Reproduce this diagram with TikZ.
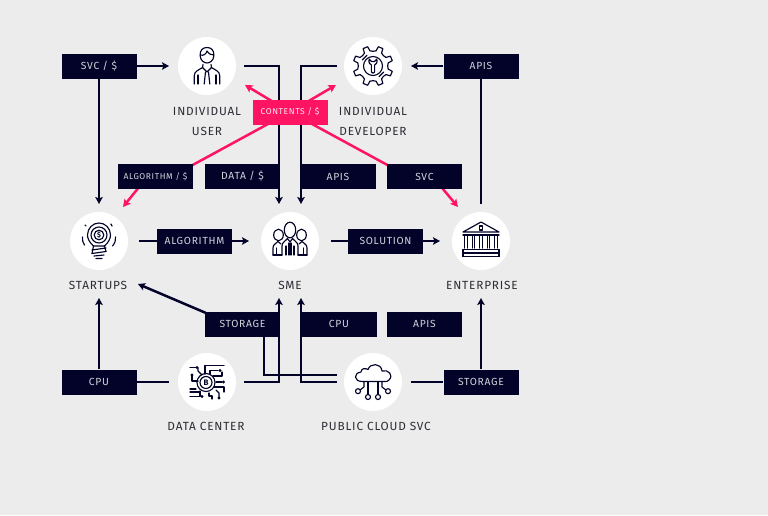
\documentclass[tikz,border=0pt]{standalone}
\usepackage{fontspec}
\setmainfont{Fira Sans}[Scale=1]
\newfontfamily\dinA{Fira Sans}[LetterSpace=7]
\usetikzlibrary{arrows.meta,backgrounds}
\definecolor{bgc}{HTML}{ECECEC}
\definecolor{navy}{HTML}{03032A}
\definecolor{pinkc}{HTML}{FF1464}
\definecolor{lblc}{HTML}{2C2C34}
\definecolor{boxt}{HTML}{D2D2DA}
\tikzset{
  x=1pt,y=-1pt,
  boxn/.style={fill=navy,text=boxt,minimum width=75pt,minimum height=25pt,inner sep=0pt,font=\dinA\fontsize{10.3}{12}\selectfont},
  boxsmall/.style={boxn,font=\dinA\fontsize{8.5}{10}\selectfont},
  boxpink/.style={boxsmall,fill=pinkc,text=white!90!pinkc},
  disc/.style={circle,fill=white,minimum size=58pt,inner sep=0pt},
  lbl/.style={text=lblc,align=center,inner sep=0pt,font=\dinA\fontsize{11.8}{20}\selectfont},
  conn/.style={draw=navy,line width=2.5pt},
  connarrow/.style={conn,-{Stealth[length=7pt,width=7.5pt,inset=1.5pt]}},
  pinkline/.style={draw=pinkc,line width=2.5pt},
  pinkarrow/.style={pinkline,-{Stealth[length=7.5pt,width=8pt,inset=1.5pt]}},
  ico/.style={draw=navy,line width=1.15pt,line cap=round,line join=round,fill=none},
  icot/.style={text=navy,inner sep=0pt,font=\fontsize{8}{8}\selectfont\bfseries},
}
\begin{document}
\begin{tikzpicture}
\useasboundingbox (0,0) rectangle (768,515);
% discs
\node[disc] (user) at (207,66) {};
\node[disc] (dev) at (373,66) {};
\node[disc] (start) at (99,241) {};
\node[disc] (sme) at (290,241) {};
\node[disc] (ent) at (481,241) {};
\node[disc] (dc) at (207,382) {};
\node[disc] (cloud) at (373,382) {};
% boxes
\node[boxn] (bsvcd) at (99,66) {SVC / \$};
\node[boxn] (bapit) at (481,66) {APIS};
\node[boxpink] (bcont) at (290,112) {CONTENTS / \$};
\node[boxsmall] (balgod) at (155.5,176.5) {ALGORITHM / \$};
\node[boxn] (bdata) at (242.5,176.5) {DATA / \$};
\node[boxn] (bapim) at (338,176.5) {APIS};
\node[boxn] (bsvc) at (424.5,176.5) {SVC};
\node[boxn] (balgo) at (194.5,241) {ALGORITHM};
\node[boxn] (bsol) at (385.5,241) {SOLUTION};
\node[boxn] (bstm) at (242.5,324) {STORAGE};
\node[boxn] (bcpum) at (339,324) {CPU};
\node[boxn] (bapil) at (424.5,324) {APIS};
\node[boxn] (bcpul) at (99,382) {CPU};
\node[boxn] (bstl) at (481,382) {STORAGE};
% labels
\node[lbl] (luser) at (207,121) {INDIVIDUAL\\USER};
\node[lbl] (ldev) at (373,121) {INDIVIDUAL\\DEVELOPER};
\node[lbl] (lstart) at (98,285.5) {STARTUPS};
\node[lbl] (lsme) at (290,285.5) {SME};
\node[lbl] (lent) at (482,285.5) {ENTERPRISE};
\node[lbl] (ldc) at (206,426.5) {DATA CENTER};
\node[lbl] (lcloud) at (376,426.5) {PUBLIC CLOUD SVC};
% free ends
\coordinate (userIn) at (169,66);
\coordinate (userOut) at (244,66);
\coordinate (devOut) at (337,66);
\coordinate (devIn) at (411,66);
\coordinate (startTop) at (99,204);
\coordinate (smeTopL) at (279,204);
\coordinate (smeTopR) at (301,204);
\coordinate (entTop) at (481,204);
\coordinate (startBot) at (99,298);
\coordinate (smeBotL) at (279,298);
\coordinate (smeBotR) at (301,298);
\coordinate (entBot) at (481,298);
\coordinate (startOut) at (139,241);
\coordinate (smeIn) at (249,241);
\coordinate (smeOut) at (331,241);
\coordinate (entIn) at (440,241);
\coordinate (startLbl) at (138,284);
\coordinate (dcIn) at (169,382);
\coordinate (dcOut) at (244,382);
\coordinate (clOutA) at (337,382);
\coordinate (clOutB) at (337,375);
\coordinate (clOutC) at (411,382);
\coordinate (stDrop) at (264,336);
\coordinate (pU) at (245,85);
\coordinate (pD) at (336,85);
\coordinate (pS) at (123,207);
\coordinate (pE) at (458,207);
\coordinate (stL) at (206,313);
\begin{pgfonlayer}{background}
\fill[bgc] (0,0) rectangle (768,515);
\draw[connarrow] (bsvcd.east) -- (userIn);
\draw[connarrow] (bsvcd.south) -- (startTop);
\draw[connarrow] (userOut) -| (smeTopL);
\draw[connarrow] (devOut) -| (smeTopR);
\draw[connarrow] (bapit.west) -- (devIn);
\draw[conn] (entTop) -- (bapit.south);
\draw[connarrow] (startOut) -- (smeIn);
\draw[connarrow] (smeOut) -- (entIn);
\draw[connarrow] (stL) -- (startLbl);
\draw[connarrow] (bcpul.north) -- (startBot);
\draw[conn] (bcpul.east) -- (dcIn);
\draw[connarrow] (dcOut) -| (smeBotL);
\draw[connarrow] (clOutA) -| (smeBotR);
\draw[conn] (clOutB) -| (stDrop);
\draw[conn] (clOutC) -- (bstl.west);
\draw[connarrow] (bstl.north) -- (entBot);
% pink
\draw[pinkarrow] (bcont.center) -- (pU);
\draw[pinkarrow] (bcont.center) -- (pD);
\draw[pinkline] (bcont.center) -- ([xshift=16pt]balgod.center);
\draw[pinkarrow] ([xshift=-8pt]balgod.center) -- (pS);
\draw[pinkline] (bcont.center) -- ([xshift=-16pt]bsvc.center);
\draw[pinkarrow] ([xshift=8pt]bsvc.center) -- (pE);
\end{pgfonlayer}
% ---- icons
% person
\begin{scope}[shift={(207,66)}]
\draw[ico] (-6.8,-10) .. controls (-7.5,-16) and (-4,-18.5) .. (0,-18.5) .. controls (4,-18.5) and (7.5,-16) .. (6.8,-10) .. controls (6.5,-5.5) and (3,-3) .. (0,-3) .. controls (-3,-3) and (-6.5,-5.5) .. (-6.8,-10);
\draw[ico] (-6.8,-11) .. controls (-3,-10) and (-1,-12) .. (0,-15) .. controls (2,-12) and (4,-11) .. (6.8,-11);
\draw[ico] (-12.8,18) -- (-12.8,10) .. controls (-12.8,5) and (-8,4) .. (-4.5,1.5) -- (-4,-1.5);
\draw[ico] (12.8,18) -- (12.8,10) .. controls (12.8,5) and (8,4) .. (4.5,1.5) -- (4,-1.5);
\draw[ico] (-4.5,1.5) -- (0,6) -- (4.5,1.5);
\draw[ico] (-9,18) -- (-9,9);
\draw[ico] (9,18) -- (9,9);
\draw[ico] (-1.5,6) -- (-2.8,18) (1.5,6) -- (2.8,18);
\end{scope}
% gear
\begin{scope}[shift={(373,66)}]
\foreach \a in {0,45,...,315}{
  \draw[ico] (\a+22.5-11:15.5) -- (\a+22.5-7:20) -- (\a+22.5+7:20) -- (\a+22.5+11:15.5) -- (\a+45:14.7) -- (\a+67.5-11:15.5);
}
\draw[ico] (0,0) circle[radius=9.5];
\draw[ico] (30:12.3) -- (60:12.3) (210:12.3) -- (240:12.3);
\draw[ico] (-3.8,-7) .. controls (-5,-3) and (-2.5,-1.5) .. (-1.6,-1) -- (-1.6,6) .. controls (-1.2,7.5) and (1.2,7.5) .. (1.6,6) -- (1.6,-1) .. controls (2.5,-1.5) and (5,-3) .. (3.8,-7) -- (1.6,-4.5) -- (-1.6,-4.5) -- cycle;
\end{scope}
% bulb
\begin{scope}[shift={(99,241)}]
\draw[ico] (0,-6) circle[radius=8];
\draw[ico] (-5.5,5) .. controls (-10,1) and (-11.5,-3) .. (-11.5,-6) .. controls (-11.5,-13) and (-6,-18) .. (0,-18) .. controls (6,-18) and (11.5,-13) .. (11.5,-6) .. controls (11.5,-3) and (10,1) .. (5.5,5);
\draw[ico] (0,-6) circle[radius=4.8];
\node[icot,font=\fontsize{7}{7}\selectfont\bfseries] (bulbd) at (0,-6) {\$};
\draw[ico] (-5.5,5) -- (5.5,5) (-7,9) -- (7,7) (-7,12.5) -- (7,10.5) (-5,15) -- (5,14) (-3,17.5) -- (3,17.5);
\draw[ico] (-5.5,5) -- (-7,12.5) (5.5,5) -- (7,10.5);
\draw[ico] (-16.5,-4) .. controls (-17,-1) and (-16,2) .. (-14.5,4);
\draw[ico] (16.5,-4) .. controls (17,-1) and (16,2) .. (13.5,5);
\draw[ico] (-14,-16) -- (-13,-15) (12,-17) -- (13,-15);
\end{scope}
% group
\begin{scope}[shift={(290,241)}]
\draw[ico] (0,-11) ellipse[x radius=5.7,y radius=7.8];
\draw[ico] (11.5,-6) ellipse[x radius=4.8,y radius=5.8];
\draw[ico] (-11.5,-6) ellipse[x radius=4.8,y radius=5.8];
\draw[ico] (-8,14) -- (-8,5) .. controls (-8,1) and (-4,0) .. (-2.5,-2.5) -- (0,1) -- (2.5,-2.5) .. controls (4,0) and (8,1) .. (8,5) -- (8,14);
\draw[ico] (-4,14) -- (-4,5) (4,14) -- (4,5) (-1,2) -- (-1,14) (1,2) -- (1,14);
\draw[ico] (-17,14) -- (-17,7) .. controls (-17,3) and (-14,3) .. (-12,0.5) -- (-9,3);
\draw[ico] (17,14) -- (17,7) .. controls (17,3) and (14,3) .. (12,0.5) -- (9,3);
\draw[ico] (-13.5,14) -- (-13.5,7) (13.5,14) -- (13.5,7);
\draw[ico] (-17,14) -- (-8,14) (17,14) -- (8,14);
\end{scope}
% bank
\begin{scope}[shift={(481,241)}]
\draw[ico] (-18,-9) -- (0,-19) -- (18,-9) -- cycle;
\draw[ico] (-18,-6) -- (18,-6);
\draw[ico] (-1.6,-15) rectangle (1.6,-11);
\foreach \c in {-15,-7.5,0,7.5,15}{
  \draw[ico] (\c-1.4,-5) -- (\c-1.4,7) (\c+1.4,-5) -- (\c+1.4,7);
}
\draw[ico] (-18,8.5) -- (18,8.5) (-18,12) -- (18,12) (-18,15.5) -- (18,15.5);
\draw[ico] (-18,8.5) -- (-18,15.5) (18,8.5) -- (18,15.5);
\end{scope}
% bitcoin circuit
\begin{scope}[shift={(207,382)}]
\draw[ico] (-1,0.5) circle[radius=9];
\draw[ico] (-1,0.5) circle[radius=6];
\node[icot] (bitb) at (-1,0.5) {B};
\draw[ico] (-17,-14.5) -- (-11,-14.5);
\draw[ico] (-9,-14) -- (-9,-11) -- (-5,-7);
\fill[navy] (-10,-14.5) circle[radius=1.7];
\draw[ico] (-2,-8) -- (-2,-16.5) -- (17,-16.5);
\draw[ico] (3,-8) -- (3,-11.5) -- (11,-11.5);
\fill[navy] (13,-11.5) circle[radius=1.7];
\draw[ico] (6,-6) -- (15,-6) -- (15,-10);
\draw[ico] (9,0) -- (15,0);
\fill[navy] (16.5,0) circle[radius=1.7];
\draw[ico] (7,5) -- (17,5) -- (17,10);
\draw[ico] (-15,-6) -- (-15,-1) -- (-9,-1);
\fill[navy] (-15,-7) circle[radius=1.7];
\draw[ico] (-17,7) -- (-11,7) (-17,10) -- (-8,10) (-17,14.5) -- (-7,14.5) -- (-7,9);
\fill[navy] (-5,14.5) circle[radius=1.7];
\draw[ico] (2,11) -- (2,14) -- (5,14) -- (5,17);
\draw[ico] (9,8) -- (12,11) -- (12,15);
\fill[navy] (12,16) circle[radius=1.7];
\end{scope}
% cloud
\begin{scope}[shift={(373,382)}]
\draw[ico] (-11,-0.5) .. controls (-19,-0.5) and (-20,-9) .. (-12,-10) .. controls (-12,-14) and (-7,-14) .. (-5,-12.5) .. controls (-3,-19) and (8,-19.5) .. (9,-11) .. controls (15,-13) and (21,-7) .. (16,-2) .. controls (15,-0.5) and (13,-0.5) .. (12,-0.5) -- cycle;
\draw[ico] (-9,-0.5) -- (-9,5) -- (-13,8);
\draw[ico] (-5,-0.5) -- (-5,12.5);
\draw[ico] (5,-0.5) -- (5,12.5);
\draw[ico] (9,-0.5) -- (9,5) -- (13,8);
\draw[ico] (-15,9.2) circle[radius=2.5];
\draw[ico] (-5,15) circle[radius=2.5];
\draw[ico] (5,15) circle[radius=2.5];
\draw[ico] (15,9.2) circle[radius=2.5];
\end{scope}
\end{tikzpicture}
\end{document}
